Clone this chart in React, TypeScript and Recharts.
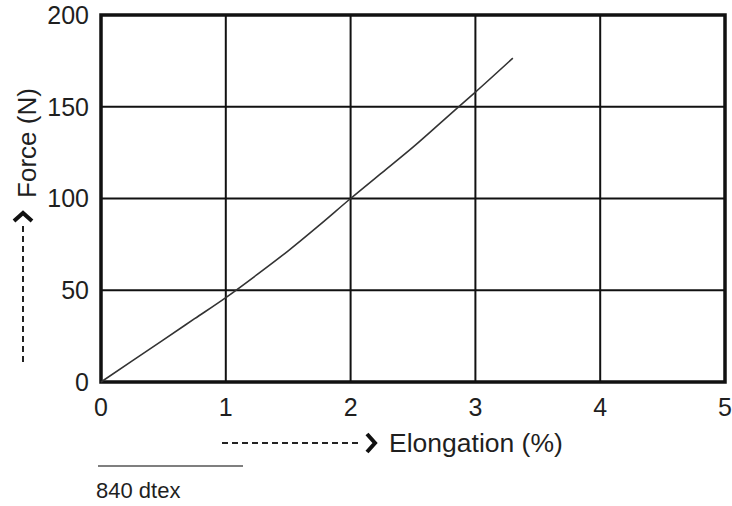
import React from 'react';
import { LineChart, Line, XAxis, YAxis, CartesianGrid, ReferenceArea } from 'recharts';

// elongation (%) vs force (N)
const elongation = [0, 0.25, 0.5, 0.75, 1, 1.25, 1.5, 1.75, 2, 2.25, 2.5, 2.75, 3, 3.3];
const force = [0, 11.5, 23, 34.5, 46, 58.5, 71.5, 85.5, 100, 114, 128, 143, 158, 176.5];

const xTicks = [0, 1, 2, 3, 4, 5];
const yTicks = [0, 50, 100, 150, 200];

const seriesName = '840 dtex';
const xTitle = 'Elongation (%)';
const yTitle = 'Force (N)';

const data = elongation.map((e, i) => ({ e, f: force[i] }));

const FONT = '"Liberation Sans", Arial, sans-serif';
const TEXT = '#1f1f1f';

const Chevron = ({ x, y, up }: { x: number; y: number; up?: boolean }) => {
  const d = up
    ? `M ${x - 9} ${y + 8} L ${x} ${y} L ${x + 9} ${y + 8}`
    : `M ${x} ${y - 9} L ${x + 8} ${y} L ${x} ${y + 9}`;
  return <path d={d} fill="none" stroke="#111" strokeWidth={4} strokeLinejoin="miter" />;
};

export default function App() {
  return (
    <div style={{ position: 'absolute', left: 0, top: 0, width: 732, height: 506, background: '#fff' }}>
      <LineChart
        width={732}
        height={506}
        data={data}
        margin={{ top: 15, right: 7, bottom: 84, left: 0 }}
      >
        <CartesianGrid stroke="#111" strokeWidth={2} />
        <XAxis
          type="number"
          dataKey="e"
          domain={[0, 5]}
          ticks={xTicks}
          interval={0}
          height={40}
          axisLine={false}
          tickLine={false}
          tickSize={0}
          tickMargin={16}
          tick={{ fill: TEXT, fontSize: 25, fontFamily: FONT }}
        />
        <YAxis
          type="number"
          domain={[0, 200]}
          ticks={yTicks}
          interval={0}
          width={101}
          axisLine={false}
          tickLine={false}
          tickSize={0}
          tickMargin={12}
          tick={{ fill: TEXT, fontSize: 25, fontFamily: FONT }}
        />
        <ReferenceArea x1={0} x2={5} y1={0} y2={200} fill="none" stroke="#111" strokeWidth={3.5} ifOverflow="visible" />
        <Line
          type="monotone"
          dataKey="f"
          stroke="#333"
          strokeWidth={1.6}
          dot={false}
          isAnimationActive={false}
        />
      </LineChart>

      <svg
        width={732}
        height={506}
        style={{ position: 'absolute', left: 0, top: 0, pointerEvents: 'none' }}
      >
        {/* y title with dashed arrow */}
        <text
          x={0}
          y={0}
          transform="translate(36 143) rotate(-90)"
          textAnchor="middle"
          fill={TEXT}
          fontSize={26}
          fontFamily={FONT}
        >
          {yTitle}
        </text>
        <line x1={23} y1={362} x2={23} y2={226} stroke="#222" strokeWidth={2} strokeDasharray="6 4" />
        <Chevron x={23} y={213} up />

        {/* x title with dashed arrow */}
        <line x1={222} y1={443} x2={360} y2={443} stroke="#222" strokeWidth={2} strokeDasharray="6 4" />
        <Chevron x={367} y={443} />
        <text x={389} y={452} fill={TEXT} fontSize={26.5} fontFamily={FONT}>
          {xTitle}
        </text>

        {/* legend */}
        <line x1={98} y1={466} x2={243} y2={466} stroke="#555" strokeWidth={1.5} />
        <text x={96} y={498} fill={TEXT} fontSize={22} fontFamily={FONT}>
          {seriesName}
        </text>
      </svg>
    </div>
  );
}
